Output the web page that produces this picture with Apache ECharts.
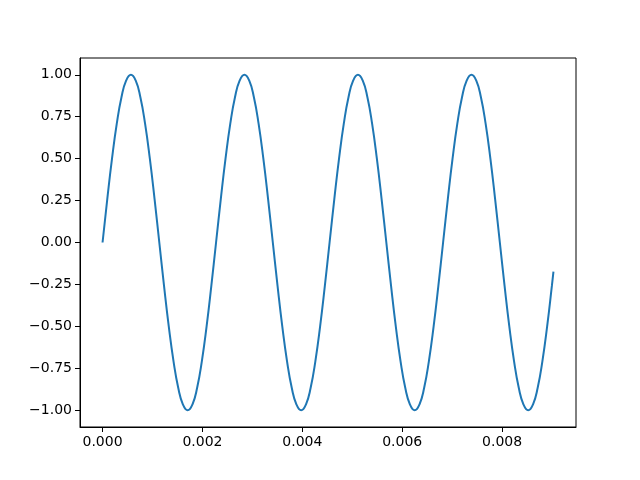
<!DOCTYPE html>
<html>
<head>
<meta charset="utf-8">
<script src="https://cdn.jsdelivr.net/npm/echarts@6/dist/echarts.min.js"></script>
<style>html,body{margin:0;padding:0;background:#fff}#c{width:640px;height:480px}</style>
</head>
<body>
<div id="c"></div>
<script>
var timeValues = [
0, 0.0000947, 0.0001894, 0.0002841, 0.0003788, 0.0004735, 0.0005682, 0.0006629,
0.0007576, 0.0008523, 0.0009470, 0.0010417, 0.0011364, 0.0012311, 0.0013258, 0.0014205,
0.0015152, 0.0016098, 0.0017045, 0.0017992, 0.0018939, 0.0019886, 0.0020833, 0.0021780,
0.0022727, 0.0023674, 0.0024621, 0.0025568, 0.0026515, 0.0027462, 0.0028409, 0.0029356,
0.0030303, 0.0031250, 0.0032197, 0.0033144, 0.0034091, 0.0035038, 0.0035985, 0.0036932,
0.0037879, 0.0038826, 0.0039773, 0.0040720, 0.0041667, 0.0042614, 0.0043561, 0.0044508,
0.0045455, 0.0046402, 0.0047348, 0.0048295, 0.0049242, 0.0050189, 0.0051136, 0.0052083,
0.0053030, 0.0053977, 0.0054924, 0.0055871, 0.0056818, 0.0057765, 0.0058712, 0.0059659,
0.0060606, 0.0061553, 0.0062500, 0.0063447, 0.0064394, 0.0065341, 0.0066288, 0.0067235,
0.0068182, 0.0069129, 0.0070076, 0.0071023, 0.0071970, 0.0072917, 0.0073864, 0.0074811,
0.0075758, 0.0076705, 0.0077652, 0.0078598, 0.0079545, 0.0080492, 0.0081439, 0.0082386,
0.0083333, 0.0084280, 0.0085227, 0.0086174, 0.0087121, 0.0088068, 0.0089015, 0.0089962,
0.0090278
];
var amplitudeValues = [
0, 0.259, 0.5, 0.707, 0.866, 0.966, 1, 0.966, 0.866, 0.707, 0.5, 0.259,
0, -0.259, -0.5, -0.707, -0.866, -0.966, -1, -0.966, -0.866, -0.707, -0.5, -0.259,
0, 0.259, 0.5, 0.707, 0.866, 0.966, 1, 0.966, 0.866, 0.707, 0.5, 0.259,
0, -0.259, -0.5, -0.707, -0.866, -0.966, -1, -0.966, -0.866, -0.707, -0.5, -0.259,
0, 0.259, 0.5, 0.707, 0.866, 0.966, 1, 0.966, 0.866, 0.707, 0.5, 0.259,
0, -0.259, -0.5, -0.707, -0.866, -0.966, -1, -0.966, -0.866, -0.707, -0.5, -0.259,
0, 0.259, 0.5, 0.707, 0.866, 0.966, 1, 0.966, 0.866, 0.707, 0.5, 0.259,
0, -0.259, -0.5, -0.707, -0.866, -0.966, -1, -0.966, -0.866, -0.707, -0.5, -0.259,
-0.174
];
var xTicks = [0, 0.002, 0.004, 0.006, 0.008];
var yTicks = [-1, -0.75, -0.5, -0.25, 0, 0.25, 0.5, 0.75, 1];

var seriesData = timeValues.map(function (t, i) { return [t, amplitudeValues[i]]; });
var tMax = timeValues[timeValues.length - 1];
var xPad = tMax * 0.05;

function fmt(v, d) {
  var s = Math.abs(v).toFixed(d);
  return (v < -1e-12 ? '\u2212' : '') + s;
}

var chart = echarts.init(document.getElementById('c'), null, {renderer: 'canvas'});
chart.setOption({
  animation: false,
  backgroundColor: '#ffffff',
  grid: {left: 80, right: 64, top: 58, bottom: 53, show: true, borderColor: '#000', borderWidth: 1, backgroundColor: 'transparent'},
  xAxis: {
    type: 'value', min: -xPad, max: tMax + xPad,
    splitLine: {show: false},
    axisLine: {show: true, onZero: false, lineStyle: {color: '#000', width: 1}},
    axisTick: {show: true, inside: false, length: 5, customValues: xTicks, lineStyle: {color: '#000', width: 1}},
    axisLabel: {show: true, margin: 8, customValues: xTicks, color: '#000', fontFamily: 'DejaVu Sans', fontSize: 14,
      formatter: function (v) { return fmt(v, 3); }}
  },
  yAxis: {
    type: 'value', min: -1.1, max: 1.1,
    splitLine: {show: false},
    axisLine: {show: true, onZero: false, lineStyle: {color: '#000', width: 1}},
    axisTick: {show: true, inside: false, length: 5, customValues: yTicks, lineStyle: {color: '#000', width: 1}},
    axisLabel: {show: true, margin: 8, customValues: yTicks, color: '#000', fontFamily: 'DejaVu Sans', fontSize: 14,
      formatter: function (v) { return fmt(v, 2); }}
  },
  series: [{
    type: 'line', data: seriesData, showSymbol: false, smooth: true,
    lineStyle: {color: '#1f77b4', width: 2}, clip: true
  }]
});
</script>
</body>
</html>
